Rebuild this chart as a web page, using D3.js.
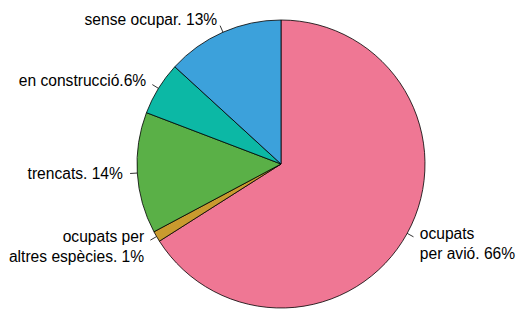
<!DOCTYPE html>
<html>
<head>
<meta charset="utf-8">
<script src="https://cdn.jsdelivr.net/npm/d3@7"></script>
<style>
  body { margin: 0; background: #fff; }
  text { font-family: "Liberation Sans", Arial, Helvetica, sans-serif; }
</style>
</head>
<body>
<div id="chart"></div>
<script>
// dades (sentit horari des de dalt)
const labels = [["ocupats", "per avió. 66%"], ["ocupats per", "altres espècies. 1%"], ["trencats. 14%"], ["en construcció.6%"], ["sense ocupar. 13%"]];
const values = [66, 1.2, 13.6, 6, 13.2];
const colors = ["#EF7794", "#C99A2E", "#5AB047", "#0CB8A5", "#3CA1DB"];

const width = 517, height = 310;
const cx = 281, cy = 164, radius = 144;

const data = values.map((v, i) => ({ value: v, label: labels[i], color: colors[i] }));

const svg = d3.select("#chart").append("svg")
  .attr("width", width)
  .attr("height", height);

const g = svg.append("g").attr("transform", `translate(${cx},${cy})`);

const pie = d3.pie().value(d => d.value).sort(null);
const arcs = pie(data);

const arc = d3.arc().innerRadius(0).outerRadius(radius);

g.selectAll("path.slice")
  .data(arcs)
  .join("path")
  .attr("class", "slice")
  .attr("d", arc)
  .attr("fill", d => d.data.color)
  .attr("stroke", "#000")
  .attr("stroke-width", 0.8)
  .attr("stroke-linejoin", "round");

const mid = d => (d.startAngle + d.endAngle) / 2;

// marques
g.selectAll("line.tick")
  .data(arcs)
  .join("line")
  .attr("x1", d => Math.sin(mid(d)) * radius)
  .attr("y1", d => -Math.cos(mid(d)) * radius)
  .attr("x2", d => Math.sin(mid(d)) * radius * 1.05)
  .attr("y2", d => -Math.cos(mid(d)) * radius * 1.05)
  .attr("stroke", "#000")
  .attr("stroke-width", 0.8);

// etiquetes
const lineH = 20;
const lab = g.selectAll("text.lab")
  .data(arcs)
  .join("text")
  .attr("class", "lab")
  .attr("text-anchor", d => Math.sin(mid(d)) < 0 ? "end" : "start")
  .style("font-size", "15.6px")
  .style("fill", "#000");

lab.each(function(d) {
  const n = d.data.label.length;
  const x = Math.sin(mid(d)) * radius * 1.1;
  const y0 = -Math.cos(mid(d)) * radius * 1.1 - (n - 1) * lineH / 2 + (n - 1) * 3;
  d3.select(this).selectAll("tspan")
    .data(d.data.label)
    .join("tspan")
    .attr("x", x)
    .attr("y", (t, i) => y0 + i * lineH)
    .attr("dy", "0.35em")
    .text(t => t);
});
</script>
</body>
</html>
